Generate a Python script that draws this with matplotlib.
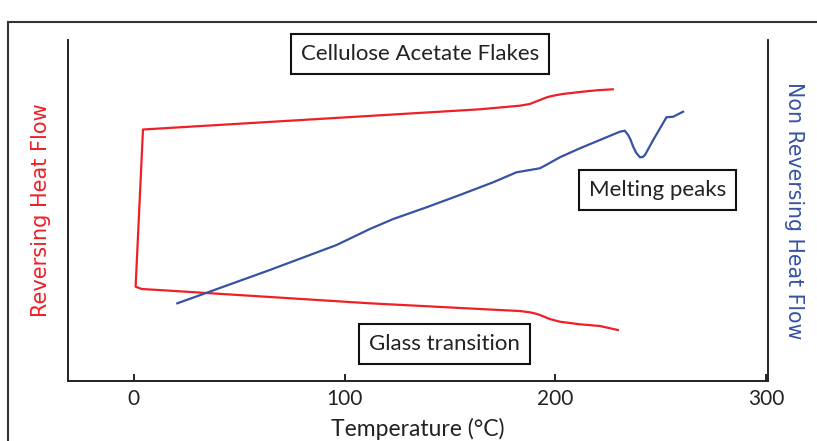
#!/usr/bin/env python3
# reversing / non reversing heat flow of cellulose acetate flakes
import matplotlib
matplotlib.use('Agg')
import matplotlib.pyplot as plt
from matplotlib.patches import Rectangle

# reversing heat flow (red), one loop: top branch right->left, drop, bottom branch left->right
rev_T = [227.3, 219.7, 211.7, 203.6, 199.5, 196.0, 191.5, 187.9, 183.2, 164.2, 78.8, 4.3,
         0.8, 3.7, 17.1, 112.0, 164.2, 183.0, 187.9, 190.5, 192.7, 197.4, 202.2,
         211.7, 221.2, 229.7]
rev_hf = [29.17, 29.07, 28.9, 28.7, 28.55, 28.37, 28.0, 27.7, 27.53, 27.17, 26.09, 25.15,
          9.43, 9.2, 9.03, 7.77, 7.2, 7.0, 6.87, 6.75, 6.6, 6.2, 5.93,
          5.67, 5.5, 5.1]

# non reversing heat flow (blue)
nrev_T = [20.6, 32.9, 64.5, 96.2, 112.0, 123.1, 138.9, 154.7, 170.5, 181.6, 192.7,
          196.5, 202.2, 211.7, 221.2, 230.7, 233.0, 234.6, 235.6, 237.0, 238.5, 240.2,
          241.5, 242.6, 243.9, 246.5, 252.8, 256.0, 260.7]
nrev_hf = [7.77, 8.7, 11.1, 13.6, 15.2, 16.2, 17.37, 18.6, 19.87, 20.87, 21.27,
           21.7, 22.37, 23.27, 24.1, 24.93, 25.03, 24.6, 24.2, 23.43, 22.8, 22.37,
           22.4, 22.6, 23.1, 24.1, 26.37, 26.43, 26.93]

xticks = [0, 100, 200, 300]
red = '#ee1f25'
blue = '#3652a3'
cal = ['Lato', 'DejaVu Sans']

fig = plt.figure(figsize=(8.17, 4.41), dpi=100)
ax = fig.add_axes([68/817, 60/441, 700/817, 341/441])
ax2 = ax.twinx()

ax.plot(rev_T, rev_hf, color=red, lw=1.6)
ax2.plot(nrev_T, nrev_hf, color=blue, lw=1.6)

for a in (ax, ax2):
    a.set_xlim(-31.3, 301)
    a.set_ylim(0, 34.1)
    a.set_yticks([])
    a.spines['top'].set_visible(False)
    for s in a.spines.values():
        s.set_linewidth(1.2)
        s.set_color('#222222')

ax.set_xticks(xticks)
ax.set_xticklabels([str(t) for t in xticks], family=cal, fontsize=15, color='#222222')
ax.tick_params(axis='x', direction='in', length=5, width=1.2, pad=6)
ax.set_xlabel('Temperature (°C)', family=cal, fontsize=16.5, color='#222222', labelpad=6)
ax.set_ylabel('Reversing Heat Flow', color=red, fontsize=15, labelpad=12)
ax2.set_ylabel('Non Reversing Heat Flow', color=blue, fontsize=14.8, rotation=270, labelpad=26)

# labelled boxes
bx = dict(boxstyle='square,pad=0.45', fc='white', ec='#111111', lw=1.5)
ax.text(135.7, 32.7, 'Cellulose Acetate Flakes', family=cal, fontsize=16,
        ha='center', va='center', bbox=bx, color='#222222')
ax.text(248.7, 19.1, 'Melting peaks', family=cal, fontsize=16,
        ha='center', va='center', bbox=bx, color='#222222')
ax.text(147.6, 3.7, 'Glass transition', family=cal, fontsize=16,
        ha='center', va='center', bbox=bx, color='#222222')

# outer frame, cut by the picture's right and bottom edge
fig.patches.append(Rectangle((8/817, -0.1), 1.2, (441-22)/441 + 0.1, transform=fig.transFigure,
                             fill=False, ec='#333333', lw=1.5))

fig.savefig('out.png', dpi=100)
